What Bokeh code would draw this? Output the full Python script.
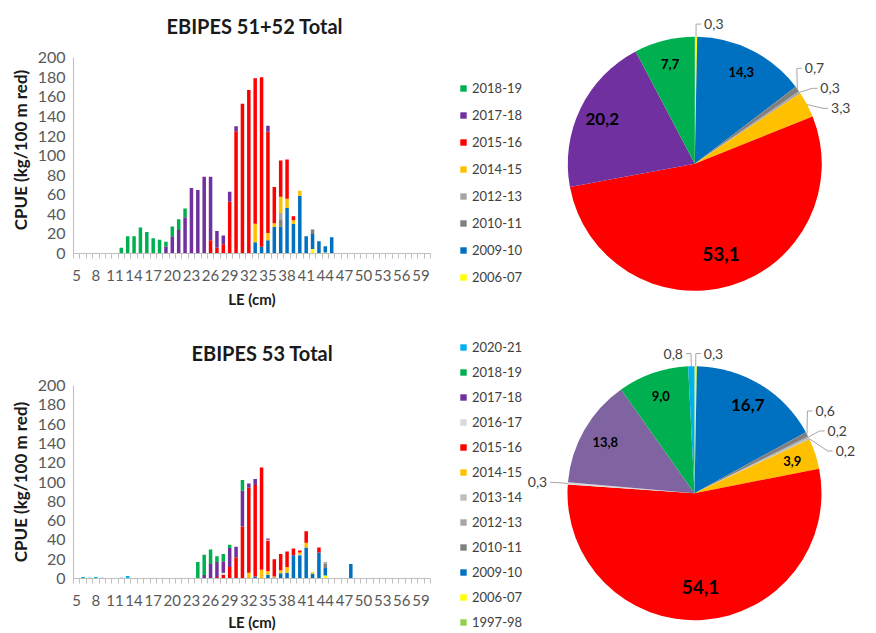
import math
from bokeh.plotting import figure
from bokeh.models import ColumnDataSource, Range1d, FixedTicker, Legend, LegendItem
from bokeh.layouts import column, row
from bokeh.embed import file_html
from bokeh.resources import INLINE
from bokeh.core.properties import value

FONT = "Lato"
NAN = float("nan")

# ------------------------------------------------------------------ data
lengths = list(range(5, 61))                       # LE (cm) classes
x_tick_labels = [5, 8, 11, 14, 17, 20, 23, 26, 29, 32, 35, 38, 41, 44, 47, 50, 53, 56, 59]
y_ticks = [0, 20, 40, 60, 80, 100, 120, 140, 160, 180, 200]

# EBIPES 51+52 : CPUE per length class, per season (stack order bottom -> top)
years_5152 = ["2006-07", "2009-10", "2010-11", "2012-13", "2014-15", "2015-16", "2017-18", "2018-19"]
cpue5152_2006_07 = {42: 4.5, 44: 1}
cpue5152_2009_10 = {33: 11.5, 34: 7, 35: 13.5, 36: 27, 37: 27.5, 38: 46.5, 39: 30.5, 40: 59,
                    41: 17.5, 42: 15.5, 43: 12.5, 44: 6.5, 45: 16.5}
cpue5152_2010_11 = {37: 7.5, 42: 4.5}
cpue5152_2012_13 = {37: 6.5}
cpue5152_2014_15 = {33: 19, 35: 7.5, 36: 4, 37: 16.5, 38: 9.5, 39: 3.5, 40: 5}
cpue5152_2015_16 = {26: 13.5, 27: 6, 28: 9.5, 29: 53, 30: 125, 31: 153, 32: 167, 33: 148.5,
                    34: 173, 35: 103.5, 36: 37, 37: 37, 38: 40, 39: 4}
cpue5152_2017_18 = {19: 7, 20: 17.5, 21: 24, 22: 37, 23: 67, 24: 65, 25: 78.5, 26: 65, 27: 17,
                    28: 9, 29: 10, 30: 5, 35: 6}
cpue5152_2018_19 = {12: 6, 13: 17.5, 14: 17.5, 15: 26.5, 16: 22, 17: 15.5, 18: 14, 19: 5,
                    20: 10, 21: 11, 22: 9}
series_5152 = [cpue5152_2006_07, cpue5152_2009_10, cpue5152_2010_11, cpue5152_2012_13,
               cpue5152_2014_15, cpue5152_2015_16, cpue5152_2017_18, cpue5152_2018_19]

# EBIPES 53
years_53 = ["1997-98", "2006-07", "2009-10", "2010-11", "2012-13", "2013-14", "2014-15",
            "2015-16", "2016-17", "2017-18", "2018-19", "2020-21"]
cpue53_1997_98 = {}
cpue53_2006_07 = {44: 3}
cpue53_2009_10 = {33: 2, 35: 4, 36: 1, 37: 5.5, 38: 6, 39: 24, 40: 24, 41: 32, 42: 5, 43: 27,
                  44: 8, 48: 15}
cpue53_2010_11 = {44: 4.5}
cpue53_2012_13 = {44: 1.5}
cpue53_2013_14 = {40: 1}
cpue53_2014_15 = {32: 6, 34: 9, 35: 3.5, 36: 1, 37: 3, 38: 6, 40: 2, 41: 5, 42: 1.5}
cpue53_2015_16 = {27: 1.5, 28: 4, 29: 12, 30: 22, 31: 54, 32: 88, 33: 95, 34: 106, 35: 32,
                  36: 18, 37: 17, 38: 16, 39: 7, 40: 2, 41: 12, 43: 5}
cpue53_2016_17 = {28: 2, 35: 0.7}
cpue53_2017_18 = {25: 3.5, 26: 15, 27: 15.5, 28: 12, 29: 19.5, 30: 11, 31: 37, 32: 4.5, 33: 6,
                  35: 1.3}
cpue53_2018_19 = {24: 17, 25: 21, 26: 15, 27: 6, 28: 7.5, 29: 3.5, 31: 11}
cpue53_2020_21 = {6: 1.5, 7: 0.8, 8: 1.5, 9: 0.8, 12: 0.8, 13: 2.5}
series_53 = [cpue53_1997_98, cpue53_2006_07, cpue53_2009_10, cpue53_2010_11, cpue53_2012_13,
             cpue53_2013_14, cpue53_2014_15, cpue53_2015_16, cpue53_2016_17, cpue53_2017_18,
             cpue53_2018_19, cpue53_2020_21]

# pie shares (%) in chronological order (clockwise from 12 o'clock)
pie5152_pct = [0.3, 14.3, 0.7, 0.3, 3.3, 53.1, 20.2, 7.7]
pie53_pct = [0.0, 0.3, 16.7, 0.6, 0.2, 0.2, 3.9, 54.1, 0.3, 13.8, 9.0, 0.8]

# ------------------------------------------------------------------ styles
BAR_COLORS = {"1997-98": "#92D050", "2006-07": "#FFFF00", "2009-10": "#0070C0",
              "2010-11": "#808080", "2012-13": "#A6A6A6", "2013-14": "#BFBFBF",
              "2014-15": "#FFC000", "2015-16": "#FF0000", "2016-17": "#D9D9D9",
              "2017-18": "#7030A0", "2018-19": "#00B050", "2020-21": "#00B0F0"}
PIE53_COLORS = dict(BAR_COLORS)
PIE53_COLORS["2017-18"] = "#8064A2"

AXIS_COLOR = "#BFBFBF"
TICK_TEXT = "#595959"
TITLE_TEXT = "#1a1a1a"

BAR_W = 440
FRAME_L = 73
FRAME_W = 357
PIE_W = 436
R = 127


def bar_figure(title, title_offset, title_standoff, years, series, fig_h, border_top,
               frame_h, y_top, xlabel_standoff):
    p = figure(width=BAR_W, height=fig_h,
               x_range=Range1d(lengths[0] - 0.5, lengths[-1] + 0.5),
               y_range=Range1d(y_ticks[0], y_top),
               output_backend="svg", toolbar_location=None,
               min_border_left=FRAME_L, min_border_right=BAR_W - FRAME_L - FRAME_W,
               min_border_top=border_top, min_border_bottom=fig_h - border_top - frame_h)
    p.frame_align = False
    p.outline_line_color = None
    p.xgrid.visible = False
    p.ygrid.visible = False
    p.background_fill_color = "white"
    p.border_fill_color = "white"

    p.title.text = title
    p.title.align = "left"
    p.title.offset = title_offset
    p.title.standoff = title_standoff
    p.title.text_font = FONT
    p.title.text_font_style = "bold"
    p.title.text_font_size = "20px"
    p.title.text_color = TITLE_TEXT

    keys = ["s%d" % i for i in range(len(years))]
    data = {"x": lengths}
    for k, s in zip(keys, series):
        data[k] = [s.get(l, 0) for l in lengths]
    src = ColumnDataSource(data)
    p.vbar_stack(keys, x="x", width=0.55, source=src,
                 fill_color=[BAR_COLORS[y] for y in years], line_color=None)

    xa = p.xaxis[0]
    xa.ticker = FixedTicker(ticks=x_tick_labels,
                            minor_ticks=[l - 0.5 for l in lengths] + [lengths[-1] + 0.5])
    xa.axis_line_color = AXIS_COLOR
    xa.major_tick_line_color = None
    xa.major_tick_in = 0
    xa.major_tick_out = 0
    xa.minor_tick_in = 0
    xa.minor_tick_out = 5
    xa.minor_tick_line_color = AXIS_COLOR
    xa.major_label_standoff = 11
    xa.major_label_text_font = FONT
    xa.major_label_text_font_size = "15px"
    xa.major_label_text_color = TICK_TEXT
    xa.axis_label = "LE (cm)"
    xa.axis_label_text_font = FONT
    xa.axis_label_text_font_style = "bold"
    xa.axis_label_text_font_size = "15px"
    xa.axis_label_text_color = TITLE_TEXT
    xa.axis_label_standoff = xlabel_standoff

    ya = p.yaxis[0]
    ya.ticker = FixedTicker(ticks=y_ticks, minor_ticks=[])
    ya.bounds = (y_ticks[0], y_ticks[-1])
    ya.axis_line_color = AXIS_COLOR
    ya.major_tick_line_color = None
    ya.major_tick_in = 0
    ya.major_tick_out = 0
    ya.minor_tick_line_color = None
    ya.major_label_standoff = 8
    ya.major_label_text_font = FONT
    ya.major_label_text_font_size = "16px"
    ya.major_label_text_color = TICK_TEXT
    ya.axis_label = "CPUE (kg/100 m red)"
    ya.axis_label_text_font = FONT
    ya.axis_label_text_font_style = "bold"
    ya.axis_label_text_font_size = "17px"
    ya.axis_label_text_color = TITLE_TEXT
    ya.axis_label_standoff = 4
    return p


def spread(ys, gap):
    ys = list(ys)
    for _ in range(200):
        moved = False
        for i in range(1, len(ys)):
            d = ys[i - 1] - ys[i]
            if d < gap - 1e-6:
                sh = (gap - d) / 2.0
                ys[i - 1] += sh
                ys[i] -= sh
                moved = True
        if not moved:
            break
    return ys


def fmt(v):
    return ("%.1f" % v).replace(".", ",")


def pie_figure(years, pct, colors, legend_years, fig_h, cx, cy_top,
               legend_loc, legend_lh, legend_sp):
    p = figure(width=PIE_W, height=fig_h,
               x_range=Range1d(-cx, PIE_W - cx), y_range=Range1d(-(fig_h - cy_top), cy_top),
               output_backend="svg", toolbar_location=None, min_border=0,
               x_axis_type=None, y_axis_type=None)
    p.frame_align = False
    p.outline_line_color = None
    p.grid.visible = False
    p.background_fill_color = "white"
    p.border_fill_color = "white"

    total = float(sum(pct))
    cum = 0.0
    wedge = {"start": [], "end": [], "color": []}
    inside = {"x": [], "y": [], "t": [], "size": []}
    outside = []
    for yr, v in zip(years, pct):
        a0 = cum / total * 2 * math.pi
        cum += v
        a1 = cum / total * 2 * math.pi
        if v <= 0:
            continue
        wedge["start"].append(math.pi / 2 - a0)
        wedge["end"].append(math.pi / 2 - a1)
        wedge["color"].append(colors[yr])
        mid = (a0 + a1) / 2
        if v >= 3.5:
            f = 0.74 if v >= 30 else 0.81
            inside["x"].append(f * R * math.sin(mid))
            inside["y"].append(f * R * math.cos(mid))
            inside["t"].append(fmt(v))
            inside["size"].append("19px" if v >= 50 else ("17px" if v >= 15 else "13px"))
        else:
            outside.append((mid, fmt(v)))

    p.wedge(x=0, y=0, radius=R, start_angle="start", end_angle="end", direction="clock",
            fill_color="color", line_color=None, source=ColumnDataSource(wedge))
    p.text(x="x", y="y", text="t", text_font_size="size", source=ColumnDataSource(inside),
           text_font=value(FONT), text_font_style="bold", text_color="black",
           text_align="center", text_baseline="middle")

    RL = 1.1 * R
    for side in (1, -1):
        grp = [(m, t) for m, t in outside if (math.sin(m) >= 0) == (side == 1)]
        grp.sort(key=lambda o: -math.cos(o[0]))
        ys = spread([RL * math.cos(m) for m, t in grp], 20)
        lab = {"x": [], "y": [], "t": []}
        xs_l, ys_l = [], []
        for (m, t), yy in zip(grp, ys):
            yy = max(-RL, min(RL, yy))
            xx = side * math.sqrt(max(RL * RL - yy * yy, 0.0))
            xs_l.append([R * math.sin(m), xx, xx + side * 5])
            ys_l.append([R * math.cos(m), yy, yy])
            lab["x"].append(xx + side * 8)
            lab["y"].append(yy)
            lab["t"].append(t)
        if grp:
            p.multi_line(xs=xs_l, ys=ys_l, line_color="#A6A6A6", line_width=1)
            p.text(x="x", y="y", text="t", source=ColumnDataSource(lab),
                   text_font=value(FONT), text_font_size="14px", text_color="#404040",
                   text_align="left" if side == 1 else "right", text_baseline="middle")

    # legend of the season colours used in the bar chart (top entry = top of stack);
    # legend-only renderers hold a single NaN row so nothing is drawn in the plot
    items = []
    for yr in reversed(legend_years):
        r = p.quad(left=[NAN], right=[NAN], top=[NAN], bottom=[NAN],
                   fill_color=BAR_COLORS[yr], line_color=None)
        items.append(LegendItem(label=yr, renderers=[r]))
    legend = Legend(items=items, location=legend_loc, orientation="vertical",
                    glyph_width=8, glyph_height=8, label_height=legend_lh, spacing=legend_sp,
                    padding=0, margin=0, label_standoff=5,
                    label_text_font=FONT, label_text_font_size="13px",
                    label_text_color="#404040", border_line_color=None,
                    background_fill_alpha=0)
    p.add_layout(legend)
    return p


# top chart: frame starts a little above the 200 line (axis line bounded at 200)
bar1 = bar_figure("EBIPES 51+52 Total", 93, 17, years_5152, series_5152,
                  310, 46, 208, 211.5, 6)
bar2 = bar_figure("EBIPES 53 Total", 118, 41, years_53, series_53,
                  323, 75, 197, 200, 4)
pie1 = pie_figure(years_5152, pie5152_pct, BAR_COLORS, years_5152, 310, 254.3, 163.3,
                  (19, 25), 16, 11)
pie2 = pie_figure(years_53, pie53_pct, PIE53_COLORS, years_53, 323, 254.0, 182.7,
                  (19, 3), 16, 9)

layout = column(row(bar1, pie1, spacing=0), row(bar2, pie2, spacing=0), spacing=0)
open("out.html", "w").write(file_html(layout, INLINE))
